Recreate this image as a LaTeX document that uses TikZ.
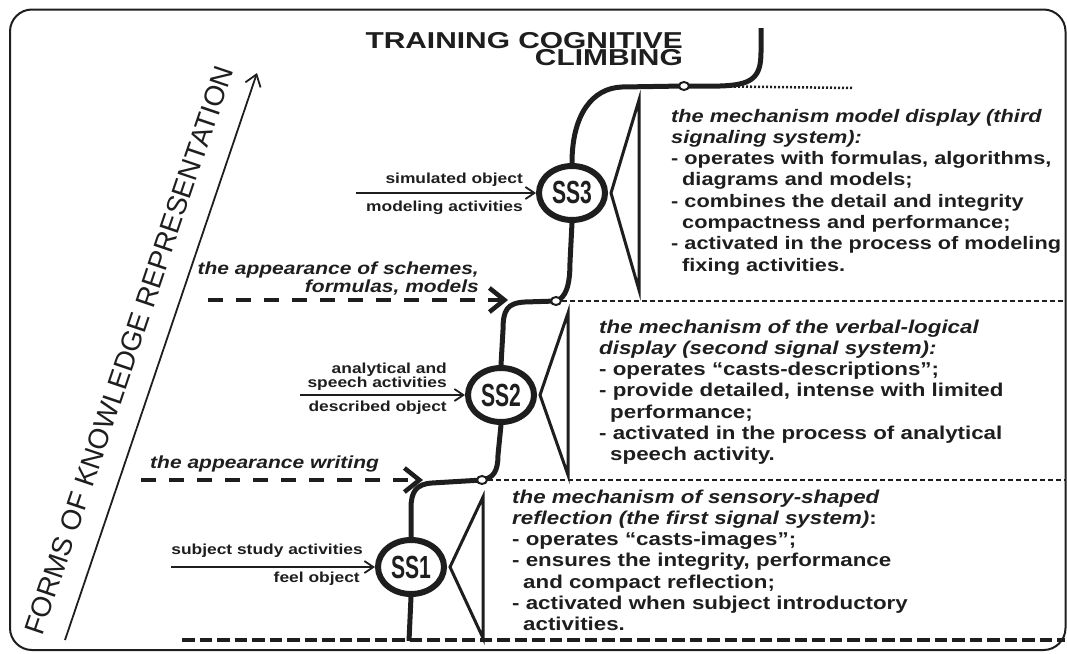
\documentclass[tikz,border=0pt]{standalone}
\usepackage{fontspec}
\setmainfont{Liberation Sans}
\newfontfamily\bodyf{Liberation Sans}[FakeStretch=1.2]
\newfontfamily\titlef{Liberation Sans}[FakeStretch=1.3]
\newfontfamily\ssf{Liberation Sans}[FakeStretch=0.66]
\usetikzlibrary{shapes.geometric,arrows.meta,calc}
\pgfdeclarelayer{bg}
\pgfsetlayers{bg,main}
\definecolor{ink}{HTML}{1E1E1E}
\tikzset{
  frame/.style={draw=ink, line width=2pt, rounded corners=22pt},
  climb/.style={draw=ink, line width=5pt},
  ssnode/.style={ellipse, draw=ink, fill=white, line width=6pt, minimum width=66pt, minimum height=54pt, inner sep=0pt, text=ink, font=\ssf\bfseries\fontsize{32}{32}\selectfont},
  junction/.style={ellipse, draw=ink, fill=white, line width=2pt, minimum width=10pt, minimum height=8pt, inner sep=0pt},
  tri/.style={draw=ink, line width=3pt},
  inarrow/.style={draw=ink, line width=1.8pt, -{Straight Barb[length=9pt,width=12pt]}},
  axisarrow/.style={draw=ink, line width=1.8pt, -{Straight Barb[length=11pt,width=16pt]}},
  lvl/.style={draw=ink, line width=4.5pt, dash pattern=on 15pt off 13pt, -{Straight Barb[length=15pt,width=24pt]}},
  basedash/.style={draw=ink, line width=4pt, dash pattern=on 12.5pt off 5pt},
  thindash/.style={draw=ink, line width=2.5pt, dash pattern=on 5pt off 3pt},
  dotline/.style={draw=ink, line width=2.5pt, dash pattern=on 2pt off 2pt},
  lab/.style={font=\bodyf\bfseries\fontsize{14.5}{14}\selectfont, text=ink, inner sep=0pt},
  ilab/.style={font=\bodyf\bfseries\itshape\fontsize{17.5}{14}\selectfont, text=ink, inner sep=0pt},
  body/.style={font=\bodyf\bfseries\fontsize{18.6}{21.3}\selectfont, text=ink, align=left, inner sep=0pt, anchor=base west},
}
\begin{document}
\begin{tikzpicture}[x=1pt,y=-1pt]
\useasboundingbox (0,0) rectangle (1067,653);
\draw[frame] (10,9.5) rectangle (1065.5,650);

% title (anchor = baseline of last line)
\node[font=\titlef\bfseries\fontsize{23}{17.5}\selectfont, text=ink, align=right, anchor=base east, inner sep=0pt] (title) at (683,65.5) {TRAINING COGNITIVE\\CLIMBING};

% axis
\coordinate (fa) at (65,640);
\coordinate (fb) at (257,73);
\draw[axisarrow] (fa) -- (fb);
\node[rotate=71.3, font=\fontsize{28}{28}\selectfont, text=ink, inner sep=0pt] (forms) at (129,350) {FORMS OF KNOWLEDGE REPRESENTATION};

% signal system nodes
\node[ssnode] (SS3) at (572,193) {SS3};
\node[ssnode] (SS2) at (501,395) {SS2};
\node[ssnode] (SS1) at (411,567) {SS1};
\node[junction] (c3) at (684,86) {};
\node[junction] (c2) at (556,301) {};
\node[junction] (c1) at (482,480) {};

% climbing curve
\coordinate (top) at (761,28);
\coordinate (bot) at (409,641);
\begin{pgfonlayer}{bg}
\draw[climb] (top) -- (761,52) .. controls (761,78) and (752,85) .. (720,86) -- (c3.center);
\draw[climb] (c3.center) -- (622,87) .. controls (592,88) and (572,115) .. (SS3.north);
\draw[climb] (SS3.south) -- (570,262) .. controls (570,285) and (566,298) .. (c2.center);
\draw[climb] (c2.center) -- (525,302) .. controls (507,303) and (503,310) .. (503,330) -- (SS2.north);
\draw[climb] (SS2.south) -- (498,455) .. controls (498,472) and (493,478) .. (c1.center);
\draw[climb] (c1.center) -- (432,483) .. controls (416,484) and (411,492) .. (411,508) -- (SS1.north);
\draw[climb] (SS1.south) -- (bot);

% level lines
\coordinate (e3) at (853,88);
\coordinate (e2) at (1065,301);
\coordinate (e1) at (1065,480);
\coordinate (b0) at (182,640);
\coordinate (b1) at (1065,640);
\draw[dotline] (c3.east) -- (e3);
\draw[thindash] (c2.east) -- (e2);
\draw[thindash] (c1.east) -- (e1);
\draw[basedash] (b0) -- (b1);
\end{pgfonlayer}

% triangles
\draw[tri] ($(SS3.east)+(3,0)$) -- (639,100) -- (639,290) -- cycle;
\draw[tri] ($(SS2.east)+(3,0)$) -- (568,313) -- (568,475) -- cycle;
\draw[tri] ($(SS1.east)+(3,0)$) -- (483,497) -- (483,638) -- cycle;

% incoming arrows
\coordinate (in3) at (356,193);
\coordinate (in2) at (300,395);
\coordinate (in1) at (171,567);
\draw[inarrow] (in3) -- (SS3);
\draw[inarrow] (in2) -- (SS2);
\draw[inarrow] (in1) -- (SS1);
\node[lab, anchor=base east] (l3a) at (523,183) {simulated object};
\node[lab, anchor=base east] (l3b) at (523,211) {modeling activities};
\node[lab, anchor=base east, align=right] (l2a) at (447,387) {analytical and\\speech activities};
\node[lab, anchor=base east] (l2b) at (447,411) {described object};
\node[lab, anchor=base east] (l1a) at (363,554) {subject study activities};
\node[lab, anchor=base east] (l1b) at (360,582) {feel object};

% appearance arrows
\coordinate (d2s) at (208,300);
\coordinate (d2e) at (508,300);
\coordinate (d1s) at (141,480);
\coordinate (d1e) at (423,480);
\draw[lvl] (d2s) -- (d2e);
\draw[lvl] (d1s) -- (d1e);
\node[ilab, anchor=base east, align=right] (t2) at (479,292) {the appearance of schemes,\\formulas, models};
\node[ilab, anchor=base west] (t1) at (150,468) {the appearance writing};

% descriptions (anchor = baseline of last line)
\node[body, font=\bodyf\bfseries\fontsize{18.1}{21.3}\selectfont] (txt3) at (671,271.1) {{\itshape the mechanism model display (third}\\{\itshape signaling system):}\\- operates with formulas, algorithms,\\\hspace*{11pt}diagrams and models;\\- combines the detail and integrity\\\hspace*{11pt}compactness and performance;\\- activated in the process of modeling\\\hspace*{11pt}fixing activities.};
\node[body] (txt2) at (599,460.8) {{\itshape the mechanism of the verbal-logical}\\{\itshape display (second signal system):}\\- operates “casts-descriptions”;\\- provide detailed, intense with limited\\\hspace*{11pt}performance;\\- activated in the process of analytical\\\hspace*{11pt}speech activity.};
\node[body] (txt1) at (512,630.8) {{\itshape the mechanism of sensory-shaped}\\{\itshape reflection (the first signal system)}:\\- operates “casts-images”;\\- ensures the integrity, performance\\\hspace*{11pt}and compact reflection;\\- activated when subject introductory\\\hspace*{11pt}activities.};
\end{tikzpicture}
\end{document}
